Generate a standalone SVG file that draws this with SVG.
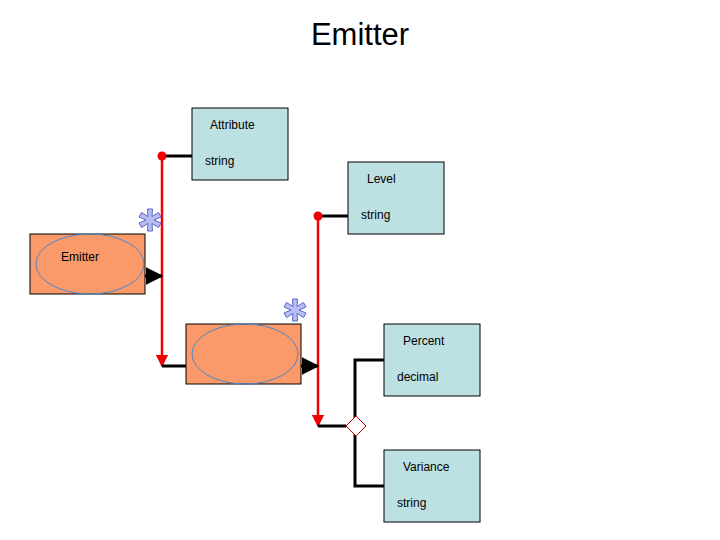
<svg xmlns="http://www.w3.org/2000/svg" width="720" height="540" viewBox="0 0 720 540">
<defs>
<style>
.box{fill:#bde0e3;stroke:#000;stroke-width:1}
.obox{fill:#fa9a6a;stroke:#000;stroke-width:1}
.ell{fill:none;stroke:#4a86c8;stroke-width:1}
.t{font-family:"Liberation Sans",Arial,sans-serif;font-size:12px;fill:#000}
.blk{stroke:#000;stroke-width:3;fill:none}
.red{stroke:#f00000;stroke-width:2.5;fill:none}
.star{fill:#b7bdf0;stroke:#5a66c8;stroke-width:1}
</style>
<marker id="ah" markerWidth="6" markerHeight="6" refX="5.5" refY="3" orient="auto" markerUnits="strokeWidth">
<path d="M0,0 L6,3 L0,6 Z" fill="#000"/>
</marker>
<marker id="rh" markerWidth="5" markerHeight="5" refX="4.5" refY="2.5" orient="auto" markerUnits="strokeWidth">
<path d="M0,0 L5,2.5 L0,5 Z" fill="#f00000"/>
</marker>
<g id="asterisk">
<path class="star" d="M-2.5,-11 L2.5,-11 L2,-3.5 L8.5,-7.5 L11,-3 L4,0 L11,3 L8.5,7.5 L2,3.5 L2.5,11 L-2.5,11 L-2,3.5 L-8.5,7.5 L-11,3 L-4,0 L-11,-3 L-8.5,-7.5 L-2,-3.5 Z"/>
</g>
</defs>
<rect width="720" height="540" fill="#fff"/>
<text x="360" y="45" text-anchor="middle" font-family="Liberation Sans,Arial,sans-serif" font-size="31">Emitter</text>

<g id="connectors">
<line class="blk" x1="162" y1="156" x2="192" y2="156"/>
<line class="red" x1="162" y1="156" x2="162" y2="366" marker-end="url(#rh)"/>
<circle cx="162" cy="156" r="4.5" fill="#f00000"/>
<line class="blk" x1="162" y1="366" x2="187" y2="366"/>
<line class="blk" x1="115" y1="276" x2="162" y2="276" marker-end="url(#ah)"/>
<line class="blk" x1="318" y1="216" x2="348" y2="216"/>
<line class="red" x1="318" y1="216" x2="318" y2="426" marker-end="url(#rh)"/>
<circle cx="318" cy="216" r="4.5" fill="#f00000"/>
<line class="blk" x1="318" y1="426" x2="346" y2="426"/>
<line class="blk" x1="271" y1="366" x2="318" y2="366" marker-end="url(#ah)"/>
<polyline class="blk" points="384,360 355,360 355,486 384,486"/>
<path d="M356,416 L366,426 L356,436 L346,426 Z" fill="#fff" stroke="#c00000" stroke-width="1"/>
</g>

<g id="attribute">
<rect class="box" x="192" y="108" width="96" height="72"/>
<text class="t" x="210" y="129">Attribute</text>
<text class="t" x="205" y="165">string</text>
</g>

<g id="emitter">
<rect class="obox" x="30" y="234" width="115" height="60"/>
<ellipse class="ell" cx="90" cy="264" rx="54" ry="30"/>
<text class="t" x="61" y="261">Emitter</text>
<use href="#asterisk" x="150" y="220"/>
</g>

<g id="emitter2">
<rect class="obox" x="186" y="324" width="115" height="60"/>
<ellipse class="ell" cx="245" cy="354" rx="53" ry="30"/>
<use href="#asterisk" x="295" y="310"/>
</g>

<g id="level">
<rect class="box" x="348" y="162" width="96" height="72"/>
<text class="t" x="367" y="183">Level</text>
<text class="t" x="361" y="219">string</text>
</g>

<g id="percent">
<rect class="box" x="384" y="324" width="96" height="72"/>
<text class="t" x="403" y="345">Percent</text>
<text class="t" x="397" y="381">decimal</text>
</g>

<g id="variance">
<rect class="box" x="384" y="450" width="96" height="72"/>
<text class="t" x="403" y="471">Variance</text>
<text class="t" x="397" y="507">string</text>
</g>
</svg>
